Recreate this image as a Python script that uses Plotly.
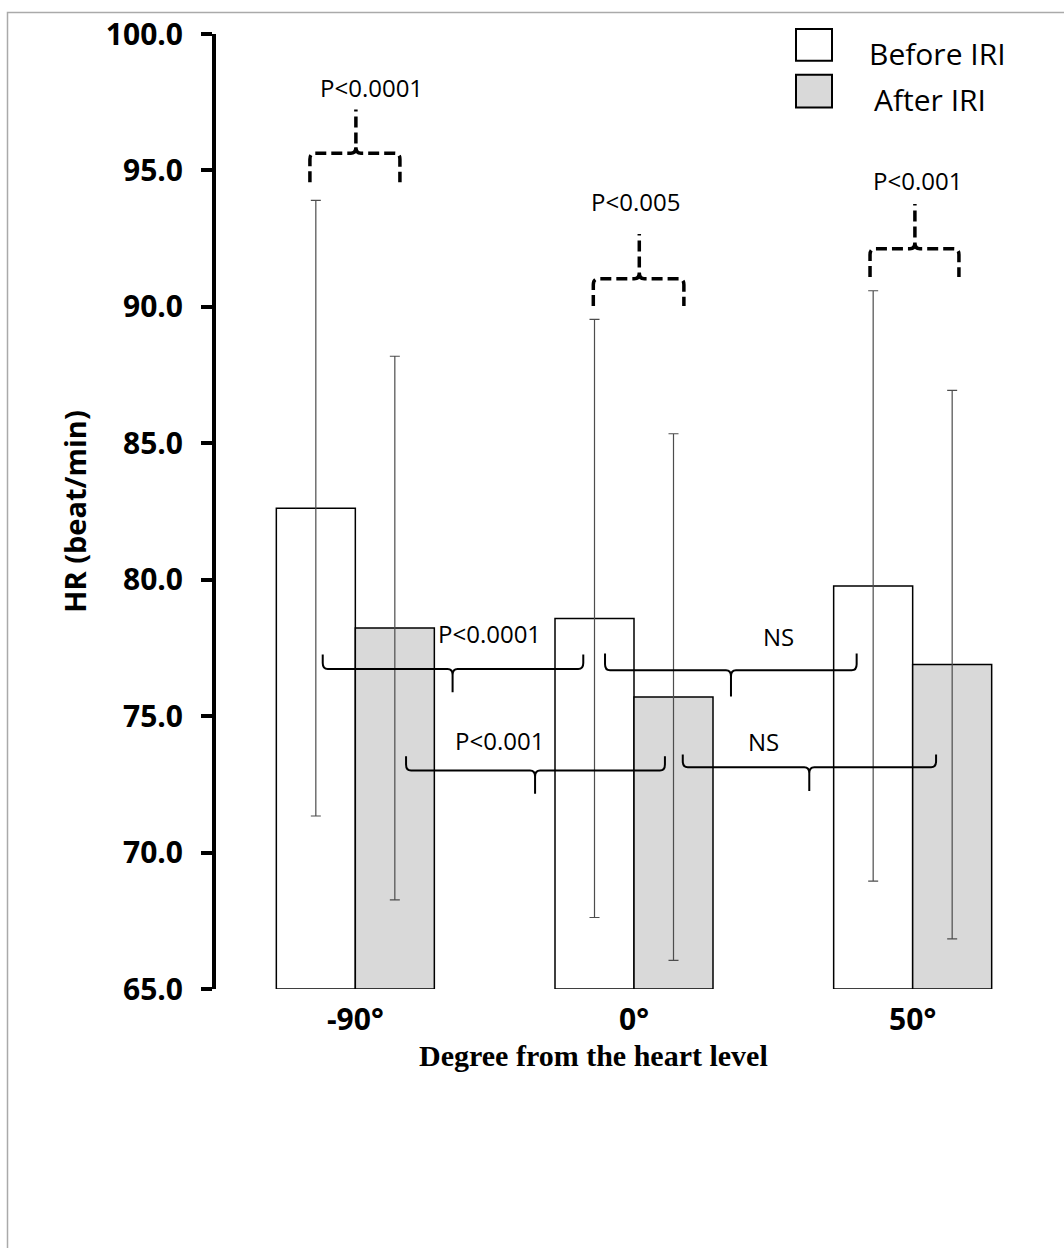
import plotly.graph_objects as go

# ---------------- data ----------------
categories = ["-90°", "0°", "50°"]
series_names = ["Before IRI", "After IRI"]
before_iri = [82.62, 78.58, 79.77]
after_iri = [78.23, 75.70, 76.89]
before_sd = [11.28, 10.96, 10.82]
after_sd = [9.96, 9.65, 10.05]
y_ticks = [65, 70, 75, 80, 85, 90, 95, 100]
y_base = 65
x_title = "Degree from the heart level"
y_title = "HR (beat/min)"

# significance brackets (annotation geometry, in data units)
# label, x0, x1, xmid, y_end, y_line, y_tip, label_x, label_y, dashed
brackets = [
    ("P<0.0001", -0.163, 0.160, 0.002, 94.57, 95.63, 97.23, 0.058, 97.85, True),
    ("P<0.005", 0.854, 1.179, 1.019, 90.03, 91.03, 92.67, 1.007, 93.66, True),
    ("P<0.001", 1.847, 2.166, 2.008, 91.09, 92.13, 93.77, 2.016, 94.46, True),
    ("P<0.0001", -0.117, 0.818, 0.349, 77.26, 76.73, 75.88, 0.483, 77.83, False),
    ("NS", 0.896, 1.799, 1.348, 77.30, 76.68, 75.72, 1.520, 77.72, False),
    ("P<0.001", 0.182, 1.111, 0.645, 73.53, 73.01, 72.16, 0.516, 73.94, False),
    ("NS", 1.175, 2.084, 1.629, 73.59, 73.13, 72.26, 1.466, 73.90, False),
]

W, H = 1064, 1248
ML, MR, MT, MB = 216, 12, 29, 259
PW, PH = W - ML - MR, H - MT - MB

def px_to_paper_x(px):
    return (px - ML) / PW

def px_to_paper_y(py):
    return (H - MB - py) / PH

x_pos = list(range(len(categories)))

fig = go.Figure()
fig.add_trace(go.Bar(
    name=series_names[0], x=x_pos, y=[v - y_base for v in before_iri], base=y_base,
    marker=dict(color="white", line=dict(color="black", width=1.5)),
    error_y=dict(type="data", array=before_sd, color="#4d4d4d", thickness=1.2, width=5),
    customdata=before_iri, hovertemplate="%{customdata}<extra>Before IRI</extra>",
    cliponaxis=False,
))
fig.add_trace(go.Bar(
    name=series_names[1], x=x_pos, y=[v - y_base for v in after_iri], base=y_base,
    marker=dict(color="#d9d9d9", line=dict(color="black", width=1.5)),
    error_y=dict(type="data", array=after_sd, color="#4d4d4d", thickness=1.2, width=5),
    customdata=after_iri, hovertemplate="%{customdata}<extra>After IRI</extra>",
    cliponaxis=False,
))

rx, ry = 0.018, 0.22

def brace_path(x0, x1, xm, y_end, y_h, y_tip):
    se = 1 if y_end > y_h else -1
    st = 1 if y_tip > y_h else -1
    return (f"M {x0},{y_end} L {x0},{y_h + se*ry} Q {x0},{y_h} {x0 + rx},{y_h} "
            f"L {xm - rx},{y_h} Q {xm},{y_h} {xm},{y_h + st*ry} L {xm},{y_tip} "
            f"M {xm},{y_h + st*ry} Q {xm},{y_h} {xm + rx},{y_h} "
            f"L {x1 - rx},{y_h} Q {x1},{y_h} {x1},{y_h + se*ry} L {x1},{y_end}")

shapes = []
annotations = []
for (lab, x0, x1, xm, ye, yh, yt, lx, ly, dashed) in brackets:
    shapes.append(dict(
        type="path", xref="x", yref="y", path=brace_path(x0, x1, xm, ye, yh, yt),
        line=dict(color="black", width=3.5 if dashed else 2, dash="11px,5px" if dashed else "solid"),
        layer="above",
    ))
    annotations.append(dict(
        x=lx, y=ly, xref="x", yref="y", text=lab, showarrow=False,
        font=dict(family="Open Sans", size=24, color="black"),
        xanchor="center", yanchor="middle", yshift=5,
    ))

# legend (custom, boxes + text)
legend_fills = ["white", "#d9d9d9"]
legend_box_y = [(24, 56), (70, 103)]
legend_text_pos = [(867, 49), (872, 95)]
for i, name in enumerate(series_names):
    shapes.append(dict(
        type="rect", xref="paper", yref="paper",
        x0=px_to_paper_x(796), x1=px_to_paper_x(832),
        y0=px_to_paper_y(legend_box_y[i][1]), y1=px_to_paper_y(legend_box_y[i][0]),
        fillcolor=legend_fills[i], line=dict(color="black", width=2),
    ))
    annotations.append(dict(
        x=px_to_paper_x(legend_text_pos[i][0]), y=px_to_paper_y(legend_text_pos[i][1]),
        xref="paper", yref="paper", text=name, showarrow=False,
        font=dict(family="Open Sans", size=30, color="black"),
        xanchor="left", yanchor="middle",
    ))

# x-axis title (placed as in the original, slightly left of the plot centre)
annotations.append(dict(
    x=px_to_paper_x(593), y=px_to_paper_y(1056), xref="paper", yref="paper",
    text=x_title, showarrow=False, xanchor="center", yanchor="middle",
    font=dict(family="Liberation Serif", size=30, weight="bold", color="black"),
))

# outer frame
shapes.append(dict(
    type="rect", xref="paper", yref="paper",
    x0=px_to_paper_x(7.5), x1=px_to_paper_x(1080),
    y0=px_to_paper_y(1270), y1=px_to_paper_y(7.5),
    line=dict(color="#aaaaaa", width=1.5), fillcolor="rgba(0,0,0,0)", layer="below",
))

fig.update_layout(
    width=W, height=H,
    margin=dict(l=ML, r=MR, t=MT, b=MB),
    paper_bgcolor="white", plot_bgcolor="white",
    barmode="group", bargap=0.433, bargroupgap=0,
    showlegend=False,
    shapes=shapes, annotations=annotations,
    font=dict(family="Open Sans", color="black"),
)
fig.update_xaxes(
    range=[-0.5, 2.5], tickvals=x_pos, ticktext=categories,
    showline=False, showgrid=False, zeroline=False, ticks="",
    tickfont=dict(family="Open Sans", size=30, weight="bold", color="black"),
    ticklabelstandoff=10,
)
fig.update_yaxes(
    range=[65, 100], tickvals=y_ticks, tickformat=".1f",
    showline=True, linecolor="black", linewidth=4,
    ticks="outside", ticklen=11, tickwidth=4, tickcolor="black",
    showgrid=False, zeroline=False,
    tickfont=dict(family="Open Sans", size=30, weight="bold", color="black"),
    ticklabelstandoff=12,
    title=dict(text=y_title, standoff=12,
               font=dict(family="Open Sans", size=29, weight="bold", color="black")),
)

fig.write_html("out.html", config={"displayModeBar": False},
               post_script="document.body.style.margin='0px';")
